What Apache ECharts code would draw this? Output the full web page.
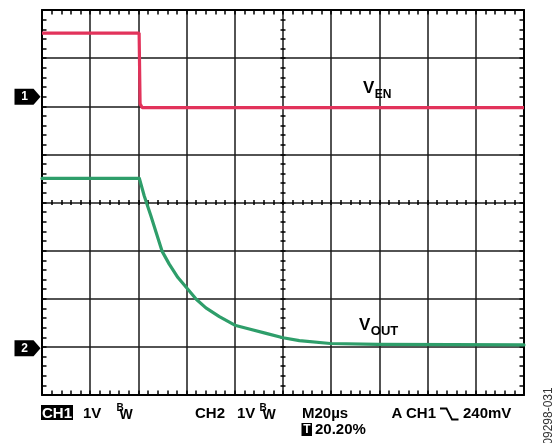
<!DOCTYPE html>
<html><head><meta charset="utf-8">
<script src="https://cdn.jsdelivr.net/npm/echarts@6/dist/echarts.min.js"></script>
<style>html,body{margin:0;padding:0;background:#fff}#c{width:552px;height:443px}</style>
</head><body><div id="c"></div>
<script>
// Time in microseconds (20 µs/div), amplitude in screen divisions (1 V/div)
const venTimeUs  = [0, 40.3, 40.7, 41.6, 200];
const venDiv     = [7.52, 7.52, 6.05, 5.97, 5.97];
const voutTimeUs = [0, 40.4, 40.8, 42.4, 45.2, 47.4, 49.8, 52.8, 56.4, 60.0, 64.0, 68.0, 73.6, 80.0, 86.0, 93.0, 100.0, 106.8, 119.6, 139.4, 200];
const voutDiv    = [4.50, 4.50, 4.48, 4.14, 3.72, 3.37, 2.99, 2.72, 2.44, 2.23, 1.99, 1.81, 1.63, 1.45, 1.37, 1.28, 1.19, 1.13, 1.07, 1.05, 1.04];
const channelLabels = ['1', '2'];
const channelGroundDiv = [6.2, 0.97];
const traceLabels = [['V', 'EN'], ['V', 'OUT']];

const FONT = '"Liberation Sans", Arial, sans-serif';
const chart = echarts.init(document.getElementById('c'), null, {renderer: 'canvas'});
const G = {left: 42, top: 10, right: 28, bottom: 48};

function tickAxis(pos, max, offset, inside, len, showLine) {
  return {
    type: 'value', position: pos, min: 0, max: max, interval: 1, offset: offset,
    axisLine: {show: showLine, onZero: false, lineStyle: {color: '#000', width: 2}},
    axisTick: {show: true, inside: inside, length: len, lineStyle: {color: '#000', width: 1.5}},
    axisLabel: {show: false}, splitLine: {show: false}
  };
}
const gridLine = {show: true, lineStyle: {color: '#1a1a1a', width: 1.5}};

const option = {
  animation: false,
  backgroundColor: '#fff',
  grid: G,
  xAxis: [
    {type: 'value', position: 'bottom', min: 0, max: 200, interval: 20,
     axisLine: {show: false, onZero: false}, axisTick: {show: false}, axisLabel: {show: false}, splitLine: gridLine},
    tickAxis('top', 50, 0, true, 4.5, true),
    tickAxis('bottom', 50, 0, true, 4.5, true),
    tickAxis('bottom', 50, -192.5, true, 2.5, false),
    tickAxis('bottom', 50, -192.5, false, 2.5, false)
  ],
  yAxis: [
    {type: 'value', position: 'left', min: 0, max: 8, interval: 1,
     axisLine: {show: false, onZero: false}, axisTick: {show: false}, axisLabel: {show: false}, splitLine: gridLine},
    tickAxis('left', 40, 0, true, 4.5, true),
    tickAxis('right', 40, 0, true, 4.5, true),
    tickAxis('left', 40, -241, true, 2.5, false),
    tickAxis('left', 40, -241, false, 2.5, false)
  ],
  series: [
    {type: 'line', name: 'VEN', xAxisIndex: 0, yAxisIndex: 0, symbol: 'none',
     data: venTimeUs.map((t, i) => [t, venDiv[i]]),
     lineStyle: {color: '#e2335b', width: 3.2}, z: 5},
    {type: 'line', name: 'VOUT', xAxisIndex: 0, yAxisIndex: 0, symbol: 'none',
     data: voutTimeUs.map((t, i) => [t, voutDiv[i]]),
     lineStyle: {color: '#2e9e6a', width: 3.2, join: 'round', cap: 'round'}, z: 5}
  ]
};
chart.setOption(option);

const g = [];
channelGroundDiv.forEach((d, i) => {
  const p = chart.convertToPixel({xAxisIndex: 0, yAxisIndex: 0}, [0, d]);
  const tipX = G.left - 1.5, y = p[1];
  g.push({type: 'polygon', shape: {points: [[tipX - 26, y - 8], [tipX - 7, y - 8], [tipX, y], [tipX - 7, y + 8], [tipX - 26, y + 8]]},
          style: {fill: '#000'}, z: 10});
  g.push({type: 'text', x: tipX - 16, y: y + 0.5, style: {text: channelLabels[i], fill: '#fff', font: 'bold 12px ' + FONT, align: 'center', verticalAlign: 'middle'}, z: 11});
});
function label(parts, x, yV, ySub, szV, szS) {
  g.push({type: 'text', x: x, y: yV, style: {text: parts[0], fill: '#000', font: 'bold ' + szV + 'px ' + FONT, align: 'left', verticalAlign: 'middle'}, z: 10});
  g.push({type: 'text', x: x + szV * 0.667 + 0.5, y: ySub, style: {text: parts[1], fill: '#000', font: 'bold ' + szS + 'px ' + FONT, align: 'left', verticalAlign: 'middle'}, z: 10});
}
label(traceLabels[0], 363, 88, 94.5, 17, 12);
label(traceLabels[1], 359, 325.5, 331, 17, 13);

function txt(s, x, y, size, color, weight, align) {
  g.push({type: 'text', x: x, y: y, style: {text: s, fill: color || '#000', font: (weight || 'bold') + ' ' + size + 'px ' + FONT, align: align || 'left', verticalAlign: 'middle'}, z: 10});
}
g.push({type: 'rect', shape: {x: 41, y: 405, width: 32, height: 15}, style: {fill: '#000'}, z: 9});
txt('CH1', 42, 413.5, 15, '#fff');
txt('1V', 83, 413.5, 15);
txt('B', 116.5, 408, 10);
txt('W', 119.5, 415.5, 14);
txt('CH2', 195, 413.5, 15);
txt('1V', 237, 413.5, 15);
txt('B', 259.5, 408, 10);
txt('W', 262.5, 415.5, 14);
txt('M20µs', 302, 413.5, 15);
txt('A', 391.5, 413.5, 15);
txt('CH1', 406, 413.5, 15);
g.push({type: 'polyline', shape: {points: [[440, 408.5], [446.5, 408.5], [452, 419.5], [458.5, 419.5]]}, style: {stroke: '#000', lineWidth: 1.8, fill: null}, z: 10});
txt('240mV', 463, 413.5, 15);
g.push({type: 'rect', shape: {x: 301.5, y: 423, width: 10.5, height: 13}, style: {fill: '#000'}, z: 9});
txt('T', 306.8, 430, 12, '#fff', 'bold', 'center');
txt('20.20%', 315, 430, 15);
g.push({type: 'text', x: 549, y: 416, rotation: Math.PI / 2,
        style: {text: '09298-031', fill: '#333', font: 'normal 12px ' + FONT, align: 'center', verticalAlign: 'middle'}, z: 10});

chart.setOption({graphic: {elements: g}});
</script></body></html>
